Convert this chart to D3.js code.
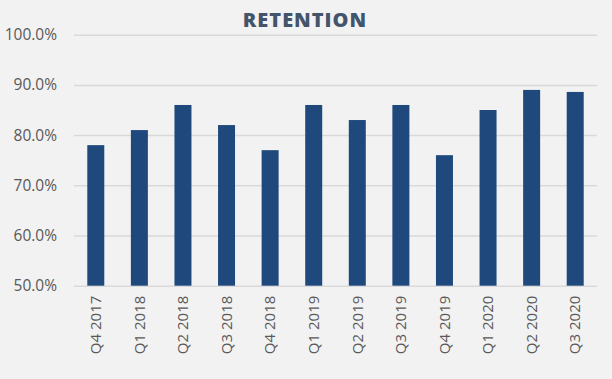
<!DOCTYPE html>
<html><head><meta charset="utf-8">
<script src="https://cdn.jsdelivr.net/npm/d3@7"></script>
<style>html,body{margin:0;padding:0;background:#F2F2F2;}svg{display:block;}</style>
</head><body>
<script>
const categories = ["Q4 2017","Q1 2018","Q2 2018","Q3 2018","Q4 2018","Q1 2019","Q2 2019","Q3 2019","Q4 2019","Q1 2020","Q2 2020","Q3 2020"];
const retention = [78, 81, 86, 82, 77, 86, 83, 86, 76, 85, 89, 88.6];
const yTicks = [50, 60, 70, 80, 90, 100];
const title = "RETENTION";

const W = 612, H = 379;
const m = {left: 74, right: 15, top: 34.7, bottom: 93.3};
const svg = d3.select("body").append("svg").attr("width", W).attr("height", H);
svg.append("rect").attr("width", W).attr("height", H).attr("fill", "#F2F2F2");

const x = d3.scaleBand().domain(categories).range([m.left, W - m.right]).paddingInner(0.61).paddingOuter(0.305);
const y = d3.scaleLinear().domain([50, 100]).range([H - m.bottom, m.top]);

const yAxis = svg.append("g").attr("transform", `translate(${m.left},0)`)
  .call(d3.axisLeft(y).tickValues(yTicks).tickFormat(d => d.toFixed(1) + "%").tickSize(-(W - m.left - m.right)).tickPadding(17));
yAxis.select(".domain").remove();
yAxis.selectAll("line").attr("stroke", "#D9D9D9").attr("stroke-width", 1.5);
yAxis.selectAll("text").attr("fill", "#595959").style("font-family", "'Open Sans', sans-serif").style("font-size", "15.5px");

svg.append("g").selectAll("rect").data(retention).join("rect")
  .attr("x", (d, i) => x(categories[i]))
  .attr("width", x.bandwidth())
  .attr("y", d => y(d))
  .attr("height", d => y(50) - y(d))
  .attr("fill", "#1F497D");

const xAxis = svg.append("g").attr("transform", `translate(0,${H - m.bottom})`)
  .call(d3.axisBottom(x).tickSize(0).tickPadding(0));
xAxis.select(".domain").remove();
xAxis.selectAll("text")
  .attr("transform", "rotate(-90)")
  .attr("text-anchor", "end")
  .attr("x", -10).attr("y", 0).attr("dy", "0.35em")
  .attr("fill", "#595959")
  .style("font-family", "'Open Sans', sans-serif").style("font-size", "15px");

svg.append("text").attr("x", 305).attr("y", 27.3).attr("text-anchor", "middle")
  .attr("fill", "#44546A").style("font-family", "'Open Sans', sans-serif").style("font-weight", "800").style("font-size", "20px")
  .style("letter-spacing", "1px")
  .text(title);
</script>
</body></html>
